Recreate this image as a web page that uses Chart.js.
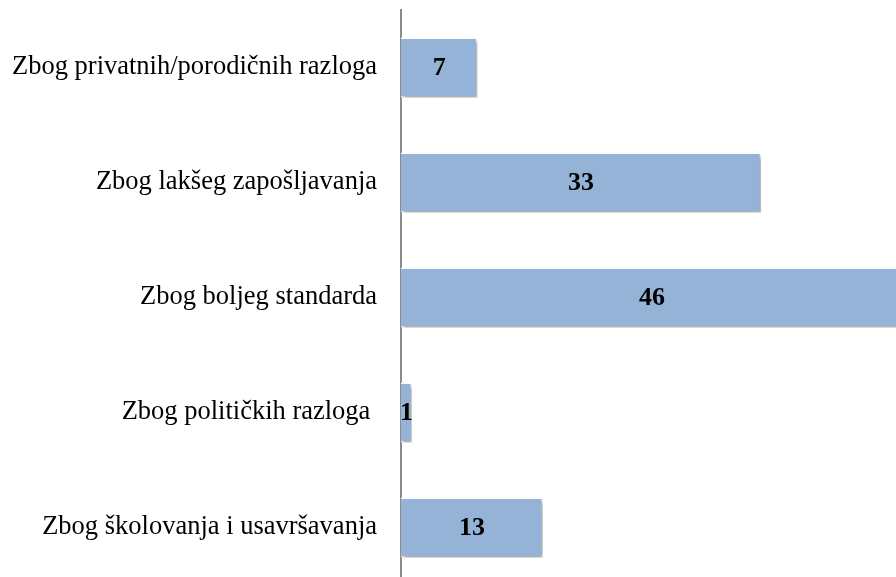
<!DOCTYPE html>
<html>
<head>
<meta charset="utf-8">
<script src="https://cdn.jsdelivr.net/npm/chart.js@4"></script>
<style>
    html, body { margin: 0; padding: 0; background: #ffffff; overflow: hidden; }
    #reasonChart { display: block; }
</style>
</head>
<body>
<canvas id="reasonChart" width="903" height="585"></canvas>
<script>
// Razlozi odlaska
const categories = [
    'Zbog privatnih/porodičnih razloga',
    'Zbog lakšeg zapošljavanja',
    'Zbog boljeg standarda',
    'Zbog političkih razloga ',
    'Zbog školovanja i usavršavanja'
];
const values = [7, 33, 46, 1, 13];

const serif = '"Liberation Serif", "Times New Roman", serif';

// shadow under the bars, like the office chart
const barShadow = {
    id: 'barShadow',
    beforeDatasetsDraw(chart) {
        const ctx = chart.ctx;
        ctx.save();
        ctx.shadowColor = 'rgba(0, 0, 0, 0.35)';
        ctx.shadowBlur = 4;
        ctx.shadowOffsetX = 2;
        ctx.shadowOffsetY = 3;
    },
    afterDatasetsDraw(chart) {
        chart.ctx.restore();
    }
};

// value inside each bar
const valueLabels = {
    id: 'valueLabels',
    afterDatasetsDraw(chart) {
        const ctx = chart.ctx;
        const meta = chart.getDatasetMeta(0);
        ctx.save();
        ctx.font = 'bold 26px ' + serif;
        ctx.fillStyle = '#000000';
        ctx.textAlign = 'center';
        ctx.textBaseline = 'middle';
        meta.data.forEach((bar, i) => {
            const cx = (bar.base + bar.x) / 2;
            ctx.fillText(String(values[i]), cx, bar.y + 1);
        });
        ctx.restore();
    }
};

new Chart(document.getElementById('reasonChart'), {
    type: 'bar',
    data: {
        labels: categories,
        datasets: [{
            data: values,
            backgroundColor: '#95b3d7',
            borderColor: '#ffffff',
            borderWidth: 1.5,
            borderSkipped: 'start',
            categoryPercentage: 1,
            barPercentage: 0.52
        }]
    },
    options: {
        indexAxis: 'y',
        responsive: false,
        animation: false,
        layout: { padding: { top: 10, right: 0, bottom: 0, left: 0 } },
        scales: {
            x: {
                display: false,
                min: 0,
                max: 46
            },
            y: {
                afterFit(scale) {
                    scale.width = 401;
                    scale.paddingTop = 0;
                    scale.paddingBottom = 0;
                },
                grid: { display: false, drawTicks: false },
                border: { display: true, color: '#8c8c8c', width: 2 },
                ticks: {
                    color: '#000000',
                    padding: 24,
                    font: { family: serif, size: 26.5 }
                }
            }
        },
        plugins: {
            legend: { display: false },
            tooltip: { enabled: false }
        }
    },
    plugins: [barShadow, valueLabels]
});
</script>
</body>
</html>
